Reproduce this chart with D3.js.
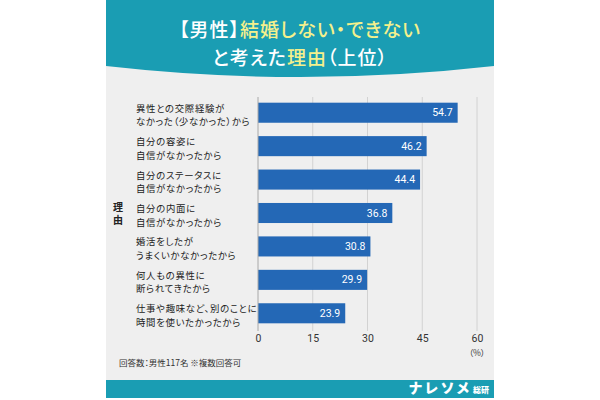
<!DOCTYPE html>
<html><head><meta charset="utf-8">
<script src="https://cdn.jsdelivr.net/npm/d3@7"></script>
<style>
html,body{margin:0;padding:0;background:#fff;}
svg{display:block;font-family:"Noto Sans CJK JP","Noto Sans",sans-serif;}
svg text{font-feature-settings:"palt" 1;}
</style></head>
<body><svg id="c" width="600" height="400"></svg>
<script>
const categories = [
  ["異性との交際経験が","なかった（少なかった）から"],
  ["自分の容姿に","自信がなかったから"],
  ["自分のステータスに","自信がなかったから"],
  ["自分の内面に","自信がなかったから"],
  ["婚活をしたが","うまくいかなかったから"],
  ["何人もの異性に","断られてきたから"],
  ["仕事や趣味など、別のことに","時間を使いたかったから"]
];
const values = [54.7, 46.2, 44.4, 36.8, 30.8, 29.9, 23.9];
const xTicks = [0, 15, 30, 45, 60];
const titleLine1 = [["【男性】","#ffffff"],["結婚しない・できない","#f4f08c"]];
const titleLine2 = [["と考えた","#ffffff"],["理由","#f4f08c"],["（上位）","#ffffff"]];
const yAxisTitle = "理由";
const footnote = "回答数：男性117名 ※複数回答可";
const brand = "ナレソメ";
const brandSub = "総研";

const svg = d3.select("#c");
const L = 106, R = 494;
svg.append("rect").attr("x",L).attr("y",0).attr("width",R-L).attr("height",398).attr("fill","#efefef");
svg.append("path")
  .attr("d",`M${L},0 L${R},0 L${R},66 Q300,88 ${L},66 Z`)
  .attr("fill","#1a9db3");
svg.append("rect").attr("x",L).attr("y",380).attr("width",R-L).attr("height",18).attr("fill","#1a9db3");

function tline(parts, y){
  const t = svg.append("text").attr("x",300).attr("y",y).attr("text-anchor","middle")
    .attr("font-size",19).attr("font-weight",500).attr("letter-spacing",1);
  parts.forEach(p=>t.append("tspan").attr("fill",p[1]).text(p[0]));
}
tline(titleLine1, 37);
tline(titleLine2, 65);

const x = d3.scaleLinear().domain([0,60]).range([258,477]);
const y = d3.scaleBand().domain(d3.range(values.length)).range([96,330]).paddingInner(0.4).paddingOuter(0.2);

svg.append("g").selectAll("line").data(xTicks.slice(1)).join("line")
  .attr("x1",d=>x(d)).attr("x2",d=>x(d)).attr("y1",97).attr("y2",331)
  .attr("stroke","#d2d2d2").attr("stroke-width",1);

svg.append("g").selectAll("rect").data(values).join("rect")
  .attr("x",x(0)).attr("y",(d,i)=>y(i)).attr("width",d=>x(d)-x(0)).attr("height",y.bandwidth())
  .attr("fill","#2468b6");

svg.append("line").attr("x1",x(0)).attr("x2",x(0)).attr("y1",97).attr("y2",331)
  .attr("stroke","#a8a8a8").attr("stroke-width",1);

svg.append("g").selectAll("text").data(values).join("text")
  .attr("x",d=>x(d)-5).attr("y",(d,i)=>y(i)+y.bandwidth()/2+3.5)
  .attr("text-anchor","end").attr("fill","#ffffff").attr("font-size",10.5)
  .attr("font-family","Roboto, 'Noto Sans', sans-serif")
  .text(d=>d.toFixed(1));

const xa = d3.axisBottom(x).tickValues(xTicks).tickSize(0).tickPadding(0);
const gx = svg.append("g").attr("transform","translate(0,333)").call(xa);
gx.select(".domain").remove();
gx.selectAll("text").attr("font-size",10.5).attr("fill","#333").attr("dy","0.9em")
  .attr("font-family","Roboto, 'Noto Sans', sans-serif");
svg.append("text").attr("x",x(60)).attr("y",356).attr("text-anchor","middle")
  .attr("font-size",8.5).attr("fill","#333").text("（%）");

const lines = [];
categories.forEach((c,i)=>{ lines.push({t:c[0],i,k:0}); lines.push({t:c[1],i,k:1}); });
svg.append("g").selectAll("text").data(lines).join("text")
  .attr("x",136).attr("y",d=>y(d.i)+y.bandwidth()/2 + (d.k===0 ? -1 : 12.6))
  .attr("font-size",9.4).attr("letter-spacing",0.7).attr("fill","#222").text(d=>d.t);

svg.append("text").attr("x",118).attr("y",202)
  .attr("writing-mode","vertical-rl").attr("letter-spacing",3)
  .attr("font-size",10).attr("font-weight",700).attr("fill","#222").text(yAxisTitle);

svg.append("text").attr("x",119).attr("y",366).attr("font-size",8.5).attr("fill","#333").text(footnote);

const bt = svg.append("text").attr("x",489).attr("y",393).attr("text-anchor","end").attr("fill","#fff").attr("font-weight",900);
bt.append("tspan").attr("font-size",14).attr("letter-spacing",3).text(brand);
bt.append("tspan").attr("font-size",8).attr("dx",1).text(brandSub);
</script></body></html>
